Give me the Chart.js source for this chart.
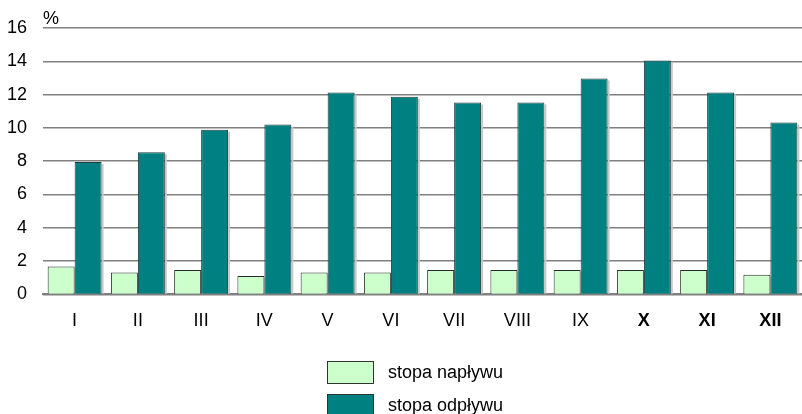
<!DOCTYPE html>
<html>
<head>
<meta charset="utf-8">
<script src="https://cdn.jsdelivr.net/npm/chart.js@4.4.1/dist/chart.umd.min.js"></script>
<style>
  html, body { margin: 0; padding: 0; background: #fff; }
  #wrap { width: 802px; height: 414px; }
</style>
</head>
<body>
<div id="wrap"><canvas id="chart" width="802" height="414"></canvas></div>
<script>
const months = ['I', 'II', 'III', 'IV', 'V', 'VI', 'VII', 'VIII', 'IX', 'X', 'XI', 'XII'];
const boldMonths = ['X', 'XI', 'XII'];
const inflow = [1.68, 1.32, 1.47, 1.1, 1.32, 1.32, 1.47, 1.47, 1.47, 1.47, 1.47, 1.18];
const outflow = [7.95, 8.54, 9.89, 10.2, 12.13, 11.87, 11.53, 11.53, 12.97, 14.05, 12.13, 10.33];
const seriesNames = ['stopa napływu', 'stopa odpływu'];
const seriesColors = ['#ccffcc', '#008080'];
const yTicks = [0, 2, 4, 6, 8, 10, 12, 14, 16];
const unitLabel = '%';

const FONT = 'Arial, "Liberation Sans", sans-serif';
const FONT_SIZE = 18;

// light grey shadow on the right side of every bar
const barShadow = {
    id: 'barShadow',
    beforeDatasetsDraw(chart) {
        const ctx = chart.ctx;
        ctx.save();
        ctx.fillStyle = '#c8c8c8';
        chart.data.datasets.forEach((ds, i) => {
            chart.getDatasetMeta(i).data.forEach(bar => {
                const w = bar.width;
                ctx.fillRect(bar.x + w / 2, bar.y + 2, 2, bar.base - bar.y - 2);
            });
        });
        ctx.restore();
    }
};

// "%" above the axis and the vertical legend under the chart
const extras = {
    id: 'extras',
    afterDraw(chart) {
        const ctx = chart.ctx;
        const area = chart.chartArea;
        ctx.save();
        ctx.fillStyle = '#000';
        ctx.font = FONT_SIZE + 'px ' + FONT;
        ctx.textBaseline = 'middle';
        ctx.textAlign = 'left';
        ctx.fillText(unitLabel, area.left, area.top - 9);

        const boxX = 327, boxW = 46, boxH = 22, rowGap = 33, top = 361;
        chart.data.datasets.forEach((ds, i) => {
            const y = top + i * rowGap;
            ctx.fillStyle = ds.backgroundColor;
            ctx.fillRect(boxX, y, boxW, boxH);
            ctx.strokeStyle = '#333';
            ctx.lineWidth = 1;
            ctx.strokeRect(boxX + 0.5, y + 0.5, boxW, boxH);
            ctx.fillStyle = '#000';
            ctx.fillText(ds.label, 388, y + boxH / 2 + 1);
        });
        ctx.restore();
    }
};

new Chart(document.getElementById('chart'), {
    type: 'bar',
    data: {
        labels: months,
        datasets: [{
            label: seriesNames[0],
            data: inflow,
            backgroundColor: seriesColors[0],
            borderColor: '#2a2a2a',
            borderWidth: 1,
            borderSkipped: 'bottom'
        }, {
            label: seriesNames[1],
            data: outflow,
            backgroundColor: seriesColors[1],
            borderColor: '#1f3a3a',
            borderWidth: 1,
            borderSkipped: 'bottom'
        }]
    },
    options: {
        responsive: false,
        animation: false,
        devicePixelRatio: 1,
        layout: {
            padding: { top: 28, right: 0, bottom: 66, left: 0 }
        },
        datasets: {
            bar: {
                categoryPercentage: 0.853,
                barPercentage: 1.0
            }
        },
        plugins: {
            legend: { display: false },
            tooltip: { enabled: false }
        },
        scales: {
            x: {
                grid: { display: false, drawTicks: false },
                border: { display: true, color: '#808080', width: 2 },
                ticks: {
                    color: '#000',
                    padding: 16,
                    font: ctx => ({
                        family: FONT,
                        size: FONT_SIZE,
                        weight: boldMonths.includes(months[ctx.index]) ? 'bold' : 'normal'
                    })
                }
            },
            y: {
                min: 0,
                max: 16,
                afterBuildTicks: scale => {
                    scale.ticks = yTicks.map(v => ({ value: v }));
                },
                afterFit: scale => { scale.width = 43; },
                grid: { color: '#808080', lineWidth: 1.5, drawTicks: false },
                border: { display: false },
                ticks: {
                    color: '#000',
                    padding: 16,
                    font: { family: FONT, size: FONT_SIZE }
                }
            }
        }
    },
    plugins: [barShadow, extras]
});
</script>
</body>
</html>
